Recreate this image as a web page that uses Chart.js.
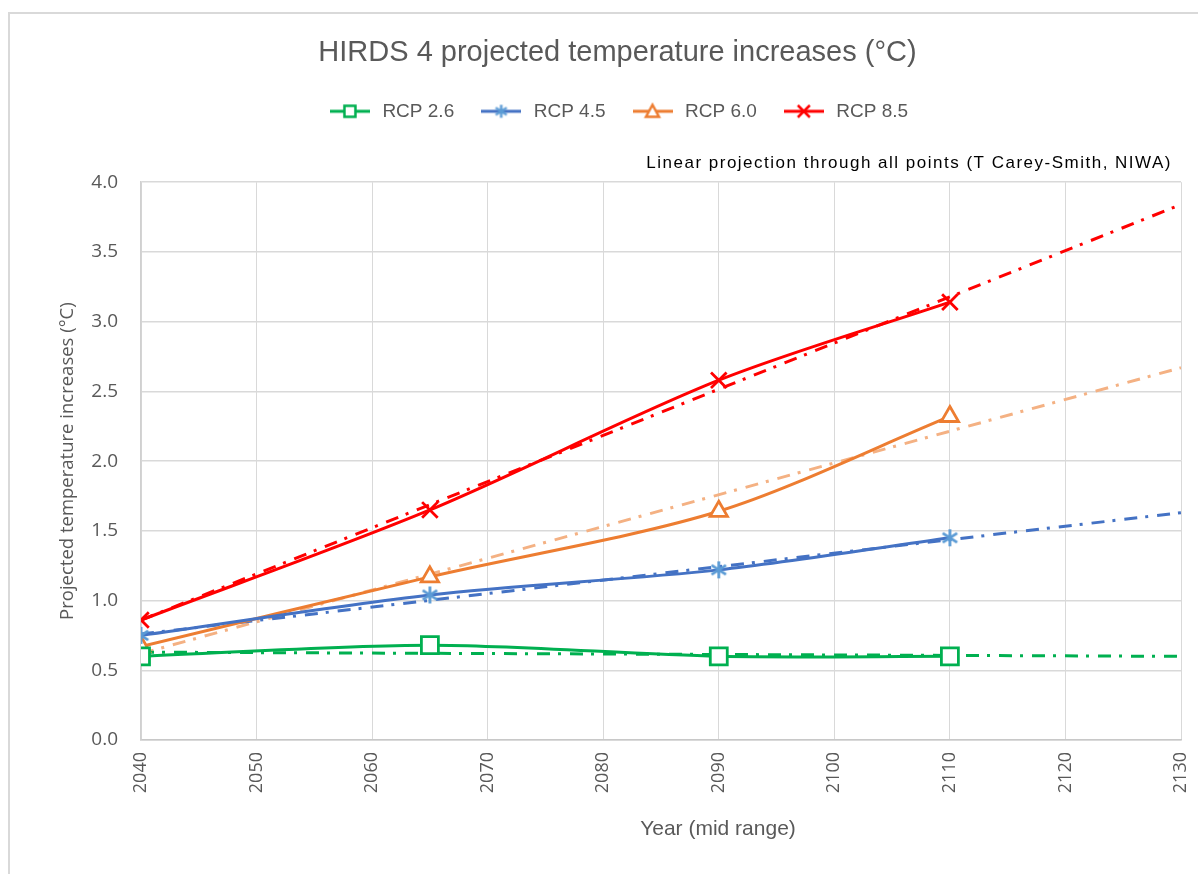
<!DOCTYPE html>
<html>
<head>
<meta charset="utf-8">
<title>HIRDS 4 projected temperature increases</title>
<script src="https://cdn.jsdelivr.net/npm/chart.js@4.4.1/dist/chart.umd.min.js"></script>
<style>
  body { margin: 0; background: #fff; overflow: hidden; }
  #frame { position: absolute; left: 8px; top: 12px; width: 1200px; height: 900px; border: 2px solid #d9d9d9; }
  #chart { position: absolute; left: 0; top: 0; }
</style>
</head>
<body>
<div id="frame"></div>
<canvas id="chart" width="1198" height="874"></canvas>
<script>
// mid-range years of the HIRDS 4 periods
const years = [2040, 2065, 2090, 2110];
const rcp26 = [0.60, 0.68, 0.60, 0.60];
const rcp45 = [0.75, 1.04, 1.22, 1.45];
const rcp60 = [0.67, 1.17, 1.64, 2.32];
const rcp85 = [0.86, 1.65, 2.58, 3.14];

// linear projections (dash-dot), ends
const trendYears = [2040, 2130];
const trend26 = [0.63, 0.60];
const trend45 = [0.76, 1.63];
const trend60 = [0.62, 2.67];
const trend85 = [0.86, 3.84];

const seriesNames = ['RCP 2.6', 'RCP 4.5', 'RCP 6.0', 'RCP 8.5'];
const xTickLabels = [2040, 2050, 2060, 2070, 2080, 2090, 2100, 2110, 2120, 2130];
const yTickLabels = [0.0, 0.5, 1.0, 1.5, 2.0, 2.5, 3.0, 3.5, 4.0];

const note = 'Linear projection through all points (T Carey-Smith, NIWA)';
const xTitle = 'Year (mid range)';

const grey = '#595959';
const colors = ['#00B050', '#4472C4', '#ED7D31', '#FF0000'];
const markColors = ['#00B050', '#5B9BD5', '#ED7D31', '#FF0000'];
const trendColors = ['#00B050', '#4472C4', '#F4B183', '#FF0000'];

function toXY(xs, ys) {
  return xs.map((x, i) => ({ x: x, y: ys[i] }));
}

// excel style asterisk: vertical bar plus an x
function asterisk(size, color, lw) {
  const c = document.createElement('canvas');
  c.width = size; c.height = size;
  const g = c.getContext('2d');
  const m = size / 2, r = size / 2 - 1;
  g.strokeStyle = color;
  g.lineWidth = lw;
  g.beginPath();
  g.moveTo(m, m - r); g.lineTo(m, m + r);
  g.moveTo(m - r * 0.85, m - r * 0.55); g.lineTo(m + r * 0.85, m + r * 0.55);
  g.moveTo(m + r * 0.85, m - r * 0.55); g.lineTo(m - r * 0.85, m + r * 0.55);
  g.stroke();
  return c;
}

// little line + marker pictures for the legend
function makeIcon(i) {
  const c = document.createElement('canvas');
  c.width = 40; c.height = 20;
  const g = c.getContext('2d');
  g.lineWidth = 3;
  g.strokeStyle = colors[i];
  g.beginPath(); g.moveTo(0, 10); g.lineTo(40, 10); g.stroke();
  g.strokeStyle = markColors[i];
  g.fillStyle = '#fff';
  g.lineWidth = 2.5;
  g.beginPath();
  if (i === 0) {
    g.rect(14.5, 4.5, 11, 11); g.fill(); g.stroke();
  } else if (i === 1) {
    g.drawImage(asterisk(15, markColors[i], 2.5), 12.5, 2.5);
  } else if (i === 2) {
    g.moveTo(20, 3.5); g.lineTo(26.5, 15.5); g.lineTo(13.5, 15.5); g.closePath();
    g.fill(); g.stroke();
  } else {
    g.moveTo(14, 4); g.lineTo(26, 16);
    g.moveTo(26, 4); g.lineTo(14, 16);
    g.stroke();
  }
  return c;
}
const icons = [0, 1, 2, 3].map(makeIcon);

const mainSeries = [rcp26, rcp45, rcp60, rcp85];
const trendSeries = [trend26, trend45, trend60, trend85];
const pointStyles = ['rect', asterisk(19, markColors[1], 2.8), 'triangle', 'crossRot'];
const pointSizes = [12, 9, 10, 11];

const datasets = [];
mainSeries.forEach((vals, i) => {
  datasets.push({
    label: seriesNames[i],
    data: toXY(years, vals),
    borderColor: colors[i],
    borderWidth: 3,
    tension: 0.3,
    pointStyle: pointStyles[i],
    pointRadius: pointSizes[i],
    pointBorderColor: markColors[i],
    pointBackgroundColor: '#fff',
    pointBorderWidth: 2.8,
    order: 1
  });
});
trendSeries.forEach((vals, i) => {
  datasets.push({
    label: seriesNames[i] + ' trend',
    data: toXY(trendYears, vals),
    borderColor: trendColors[i],
    borderWidth: 3,
    borderDash: [13, 8, 3, 9],
    pointRadius: 0,
    tension: 0,
    order: 2
  });
});

// note above the plot and the x axis title (sits right of centre in the original)
const textPlugin = {
  id: 'texts',
  afterDraw(chart) {
    const ctx = chart.ctx;
    const a = chart.chartArea;
    ctx.save();
    ctx.font = "17px 'Liberation Sans', Arial, sans-serif";
    ctx.letterSpacing = '1.5px';
    ctx.fillStyle = '#000';
    ctx.textAlign = 'right';
    ctx.textBaseline = 'alphabetic';
    ctx.fillText(note, a.right - 9, a.top - 14);
    ctx.letterSpacing = '0px';
    ctx.font = "21px 'Liberation Sans', Arial, sans-serif";
    ctx.fillStyle = grey;
    ctx.textAlign = 'center';
    ctx.textBaseline = 'middle';
    ctx.fillText(xTitle, (a.left + a.right) / 2 + 57, a.bottom + 89);
    ctx.restore();
  }
};

Chart.defaults.font.family = "'Liberation Sans', Arial, sans-serif";
Chart.defaults.color = grey;

new Chart(document.getElementById('chart').getContext('2d'), {
  type: 'line',
  data: { datasets: datasets },
  options: {
    responsive: false,
    animation: false,
    layout: { padding: { left: 54, right: 17, top: 0, bottom: 0 } },
    plugins: {
      title: {
        display: true,
        text: 'HIRDS 4 projected temperature increases (°C)',
        color: grey,
        font: { size: 29, weight: 'normal' },
        padding: { top: 36, bottom: 7 }
      },
      legend: {
        weight: 1800,
        labels: {
          usePointStyle: true,
          pointStyleWidth: 46,
          padding: 24,
          color: grey,
          font: { size: 19 },
          filter: item => item.datasetIndex < 4,
          generateLabels(chart) {
            const items = Chart.defaults.plugins.legend.labels.generateLabels(chart);
            items.forEach(it => { if (it.datasetIndex < 4) it.pointStyle = icons[it.datasetIndex]; });
            return items;
          }
        }
      },
      subtitle: {
        display: true,
        text: '',
        font: { size: 17 },
        padding: { top: 21, bottom: 10 }
      },
      tooltip: { enabled: false }
    },
    scales: {
      x: {
        type: 'linear',
        min: xTickLabels[0],
        max: xTickLabels[xTickLabels.length - 1],
        afterFit(scale) { scale.height = 134; scale.paddingRight = 0; },
        ticks: {
          stepSize: 5,
          autoSkip: false,
          minRotation: 90,
          maxRotation: 90,
          padding: 12,
          color: grey,
          font: { family: "'Open Sans', sans-serif", size: 18 },
          callback: v => xTickLabels.includes(v) ? String(v) : null
        },
        grid: {
          drawTicks: false,
          color: c => (c.tick && xTickLabels.includes(c.tick.value)) ? '#d9d9d9' : '#ededed'
        },
        border: { color: '#c8c8c8', width: 1.5 }
      },
      y: {
        min: yTickLabels[0],
        max: yTickLabels[yTickLabels.length - 1],
        afterFit(scale) { scale.width = 87; },
        ticks: {
          stepSize: 0.5,
          padding: 23,
          color: grey,
          font: { family: "'Open Sans', sans-serif", size: 19 },
          callback: v => v.toFixed(1)
        },
        grid: { drawTicks: false, color: '#d9d9d9', lineWidth: 1.5 },
        border: { color: '#d0d0d0', width: 1.5 },
        title: {
          display: true,
          text: 'Projected temperature increases (°C)',
          color: grey,
          font: { family: "'Open Sans', sans-serif", size: 18.5 },
          padding: { top: 3, bottom: 4 }
        }
      }
    }
  },
  plugins: [textPlugin]
});
</script>
</body>
</html>
